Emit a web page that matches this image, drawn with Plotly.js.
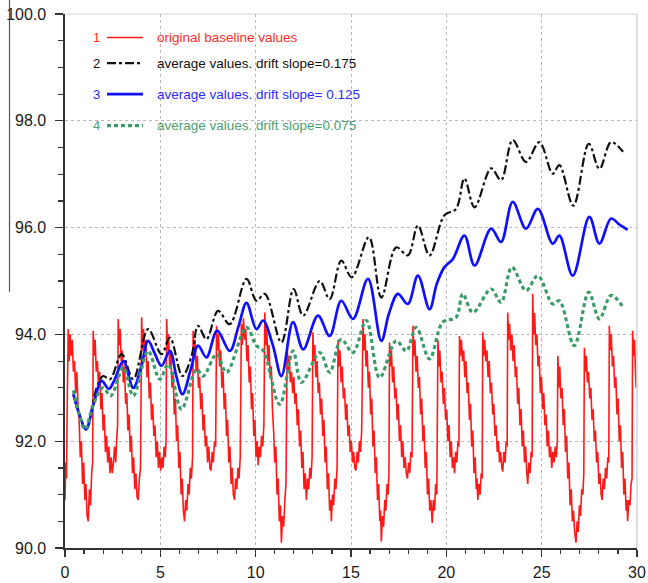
<!DOCTYPE html>
<html>
<head>
<meta charset="utf-8">
<script src="https://cdn.plot.ly/plotly-3.0.1.min.js"></script>
<style>html,body{margin:0;padding:0;background:#fff;}#chart{width:648px;height:583px;}</style>
</head>
<body>
<div id="chart"></div>
<script>
// ---- data ----
var legendNumbers = ['1', '2', '3', '4'];
var seriesNames = [
  'original baseline values',
  'average values. drift slope=0.175',
  'average values. drift slope= 0.125',
  'average values. drift slope=0.075'
];
var xTickVals = [0, 5, 10, 15, 20, 25, 30];
var yTickVals = [90, 92, 94, 96, 98, 100];

// red: original baseline values (noisy saw-tooth)
var redPts = [
 [0,90.9],[0.04,91.6],[0.08,91.3],[0.12,92.8],[0.17,94.1],
 [0.22,93.5],[0.27,94.0],[0.32,93.6],[0.38,93.9],[0.44,93.3],[0.5,93.5],[0.56,92.9],[0.62,93.3],[0.68,92.7],[0.74,92.4],[0.8,91.7],[0.86,92.0],[0.92,91.2],[0.98,91.6],[1.04,90.9],[1.1,91.2],[1.16,90.6],[1.22,90.5],[1.28,91.1],[1.34,90.8],[1.4,91.4],[1.45,91.6],[1.48,94.07],
 [1.53,93.6],[1.58,93.9],[1.64,93.3],[1.7,93.5],[1.76,93.0],[1.82,93.3],[1.88,92.6],[1.94,92.9],[2.0,92.2],[2.06,92.5],[2.12,91.8],[2.18,92.1],[2.24,91.6],[2.3,91.9],[2.36,91.4],[2.42,91.7],[2.48,91.4],[2.54,91.6],[2.6,91.9],[2.66,91.6],[2.72,92.1],[2.76,92.3],[2.79,94.29],
 [2.84,93.8],[2.89,94.1],[2.95,93.5],[3.0,93.7],[3.06,93.1],[3.12,93.4],[3.18,92.7],[3.24,92.9],[3.3,92.2],[3.36,92.5],[3.42,91.8],[3.48,92.1],[3.54,91.4],[3.6,91.7],[3.66,91.1],[3.72,91.4],[3.78,90.95],[3.84,90.9],[3.9,91.3],[3.96,91.5],[4.02,94.32],
 [4.07,93.7],[4.12,94.1],[4.18,93.6],[4.24,93.9],[4.3,93.2],[4.36,93.5],[4.42,92.8],[4.48,93.1],[4.54,92.4],[4.6,92.7],[4.66,92.1],[4.72,92.3],[4.78,91.7],[4.84,92.0],[4.9,91.5],[4.96,91.8],[5.02,91.45],[5.08,91.7],[5.14,91.5],[5.2,91.9],[5.26,91.7],[5.3,92.0],[5.33,94.29],
 [5.38,93.7],[5.43,94.0],[5.49,93.4],[5.55,93.7],[5.61,93.0],[5.67,93.3],[5.73,92.5],[5.79,92.8],[5.85,92.0],[5.91,92.3],[5.97,91.5],[6.03,91.8],[6.09,91.0],[6.15,91.3],[6.21,90.7],[6.27,90.5],[6.33,90.9],[6.39,90.7],[6.45,91.2],[6.51,91.0],[6.57,91.5],[6.63,91.3],[6.69,91.7],[6.72,94.07],
 [6.77,93.6],[6.82,93.9],[6.88,93.3],[6.94,93.6],[7.0,93.0],[7.06,93.2],[7.12,92.6],[7.18,92.9],[7.24,92.2],[7.3,92.5],[7.36,91.9],[7.42,92.1],[7.48,91.6],[7.54,91.9],[7.6,91.5],[7.66,91.45],[7.72,91.8],[7.78,91.6],[7.84,92.0],[7.9,91.9],[7.95,94.16],
 [8.0,93.7],[8.05,94.0],[8.11,93.4],[8.17,93.7],[8.23,93.0],[8.29,93.3],[8.35,92.6],[8.41,92.9],[8.47,92.1],[8.53,92.4],[8.59,91.6],[8.65,91.9],[8.71,91.2],[8.77,91.5],[8.83,91.0],[8.89,90.9],[8.95,91.3],[9.01,91.1],[9.07,91.5],[9.13,91.3],[9.19,91.7],[9.25,94.2],
 [9.3,93.8],[9.36,94.3],[9.42,93.9],[9.48,94.1],[9.54,93.5],[9.6,93.8],[9.66,93.1],[9.72,93.4],[9.78,92.6],[9.84,92.9],[9.9,92.1],[9.96,92.4],[10.02,91.7],[10.08,92.0],[10.13,91.55],[10.19,91.9],[10.25,91.7],[10.31,92.1],[10.37,91.9],[10.43,92.3],[10.48,94.41],
 [10.53,93.8],[10.58,94.1],[10.64,93.5],[10.7,93.8],[10.76,93.2],[10.82,93.4],[10.88,92.6],[10.94,92.2],[11.0,91.6],[11.06,91.9],[11.12,91.0],[11.18,91.3],[11.24,90.5],[11.3,90.8],[11.35,90.1],[11.41,90.6],[11.47,90.4],[11.53,90.9],[11.59,91.2],[11.65,93.8],
 [11.7,93.3],[11.76,93.6],[11.82,93.1],[11.88,93.3],[11.94,92.9],[12.0,93.2],[12.06,92.7],[12.12,92.9],[12.18,92.3],[12.24,92.6],[12.3,91.9],[12.36,92.2],[12.42,91.5],[12.48,91.8],[12.54,91.1],[12.6,91.4],[12.66,90.9],[12.72,91.3],[12.78,91.1],[12.84,91.5],[12.9,91.3],[12.96,91.7],[13.0,94.04],
 [13.05,93.5],[13.1,93.8],[13.16,93.2],[13.22,93.5],[13.28,92.9],[13.34,93.1],[13.4,92.5],[13.46,92.8],[13.52,92.1],[13.58,92.4],[13.64,91.6],[13.7,91.9],[13.76,91.1],[13.82,91.4],[13.88,90.7],[13.94,90.9],[13.97,90.5],[14.03,91.0],[14.09,90.8],[14.15,91.3],[14.21,91.1],[14.27,91.5],[14.32,93.9],
 [14.37,93.4],[14.42,93.7],[14.48,93.1],[14.54,93.4],[14.6,92.8],[14.66,93.0],[14.72,92.4],[14.78,92.7],[14.84,92.1],[14.9,92.3],[14.96,91.8],[15.02,92.0],[15.08,91.6],[15.14,91.8],[15.2,91.5],[15.26,91.45],[15.32,91.8],[15.38,91.6],[15.44,92.0],[15.5,91.8],[15.56,92.2],[15.63,94.29],
 [15.68,93.7],[15.73,94.0],[15.79,93.4],[15.85,93.7],[15.91,93.0],[15.97,93.3],[16.03,92.5],[16.09,92.8],[16.15,91.9],[16.21,92.2],[16.27,91.4],[16.33,91.7],[16.39,90.9],[16.45,91.2],[16.51,90.5],[16.55,90.7],[16.59,90.12],[16.65,90.6],[16.71,90.4],[16.77,90.9],[16.83,90.7],[16.89,91.2],[16.95,91.0],[16.99,91.4],[17.02,93.85],
 [17.07,93.4],[17.12,93.7],[17.18,93.1],[17.24,93.4],[17.3,92.8],[17.36,93.0],[17.42,92.4],[17.48,92.7],[17.54,92.0],[17.6,92.3],[17.66,91.7],[17.72,92.0],[17.78,91.5],[17.84,91.7],[17.9,91.4],[17.96,91.3],[18.02,91.6],[18.08,91.4],[18.14,91.8],[18.2,91.7],[18.25,94.16],
 [18.3,93.6],[18.35,93.9],[18.41,93.3],[18.47,93.6],[18.53,93.0],[18.59,93.2],[18.65,92.5],[18.71,92.8],[18.77,92.0],[18.83,92.3],[18.89,91.5],[18.95,91.8],[19.01,91.0],[19.07,91.3],[19.13,90.7],[19.19,90.9],[19.26,90.47],[19.32,90.9],[19.38,90.7],[19.44,91.2],[19.5,91.0],[19.56,93.9],
 [19.61,93.4],[19.66,93.7],[19.72,93.1],[19.78,93.3],[19.84,92.7],[19.9,93.0],[19.96,92.4],[20.02,92.6],[20.08,92.0],[20.14,92.3],[20.2,91.7],[20.26,92.0],[20.32,91.5],[20.38,91.7],[20.43,91.4],[20.49,91.8],[20.55,91.6],[20.61,92.0],[20.66,91.9],[20.69,93.97],
 [20.74,93.6],[20.79,93.9],[20.85,93.5],[20.91,93.7],[20.97,93.2],[21.03,93.5],[21.09,92.9],[21.15,93.1],[21.21,92.4],[21.27,92.7],[21.33,91.9],[21.39,92.2],[21.45,91.4],[21.51,91.7],[21.57,91.1],[21.61,91.3],[21.65,90.9],[21.71,91.2],[21.77,91.0],[21.83,91.4],[21.88,91.3],[21.91,94.04],
 [21.96,93.6],[22.01,93.9],[22.07,93.5],[22.13,93.7],[22.19,93.2],[22.25,93.5],[22.31,92.9],[22.37,93.1],[22.43,92.5],[22.49,92.7],[22.55,92.1],[22.61,92.3],[22.67,91.8],[22.73,92.0],[22.79,91.6],[22.85,91.8],[22.91,91.5],[22.96,91.43],[23.02,91.8],[23.08,91.6],[23.14,92.0],[23.19,91.9],[23.22,94.41],
 [23.27,93.9],[23.32,94.2],[23.38,93.7],[23.44,94.0],[23.5,93.5],[23.56,93.8],[23.62,93.2],[23.68,93.4],[23.74,92.7],[23.8,93.0],[23.86,92.3],[23.92,92.6],[23.98,91.9],[24.04,92.2],[24.1,91.6],[24.16,91.9],[24.22,91.4],[24.27,91.2],[24.33,91.6],[24.39,91.4],[24.45,91.8],[24.5,91.7],[24.53,94.76],
 [24.58,94.0],[24.63,94.4],[24.69,93.8],[24.75,94.0],[24.81,93.4],[24.87,93.6],[24.93,92.9],[24.99,93.2],[25.05,92.6],[25.11,92.9],[25.17,92.3],[25.23,92.5],[25.29,91.9],[25.35,92.2],[25.41,91.7],[25.47,91.9],[25.53,91.5],[25.59,91.8],[25.65,91.6],[25.71,91.9],[25.77,91.7],[25.82,92.0],[25.85,93.6],[25.9,93.0],[25.95,93.4],[26.01,92.8],[26.07,93.0],[26.13,92.3],[26.19,92.6],[26.25,91.8],[26.31,92.1],[26.37,91.3],[26.43,91.6],[26.49,90.8],[26.55,91.1],[26.61,90.5],[26.67,90.7],[26.73,90.3],[26.8,90.1],[26.86,90.5],[26.92,90.3],[26.98,90.8],[27.04,90.6],[27.1,91.1],[27.16,91.0],[27.21,91.4],[27.24,93.75],
 [27.29,93.3],[27.34,93.6],[27.4,93.1],[27.46,93.3],[27.52,92.8],[27.58,93.0],[27.64,92.4],[27.7,92.6],[27.76,92.0],[27.82,92.2],[27.88,91.6],[27.94,91.8],[28.0,91.2],[28.06,91.4],[28.12,91.0],[28.17,90.9],[28.23,91.3],[28.29,91.1],[28.35,91.5],[28.41,91.3],[28.47,91.7],[28.52,91.6],[28.55,94.16],
 [28.6,93.7],[28.65,94.0],[28.71,93.4],[28.77,93.6],[28.83,93.0],[28.89,93.2],[28.95,92.5],[29.01,92.8],[29.07,92.0],[29.13,92.3],[29.19,91.5],[29.25,91.8],[29.31,91.0],[29.37,91.3],[29.43,90.7],[29.47,90.9],[29.51,90.5],[29.57,90.9],[29.63,90.8],[29.69,91.2],[29.74,91.3],[29.77,94.07],[29.82,93.6],[29.87,93.9],[29.92,93.3],[29.96,93.0]
];

// black: average values, drift slope = 0.175
var blackX = [0.44,0.75,1.1,1.66,2.0,2.36,2.97,3.58,4.36,5.06,5.5,6.16,6.64,6.98,7.42,8.03,8.64,9.52,10.04,10.48,11.35,11.99,12.49,13.36,13.88,14.49,15.04,15.94,16.59,17.37,17.98,18.51,19.12,19.9,20.51,20.95,21.48,22.35,22.87,23.48,24.18,24.88,25.58,25.93,26.66,27.47,28.03,28.64,29.27];
var blackY = [92.88,92.5,92.22,93.0,93.22,93.16,93.63,93.16,94.1,93.63,93.94,93.22,93.6,94.16,93.91,94.44,94.19,95.04,94.63,94.76,93.85,94.85,94.35,95.0,94.66,95.38,95.07,95.82,94.69,95.63,95.48,96.04,95.48,96.23,96.35,96.92,96.38,97.11,96.89,97.64,97.23,97.6,97.01,97.17,96.41,97.57,97.1,97.6,97.42];

// blue: average values, drift slope = 0.125
var blueX = [0.44,0.75,1.1,1.5,1.92,2.3,2.6,3.06,3.58,4.0,4.36,4.7,5.06,5.5,5.85,6.16,6.6,6.98,7.42,7.98,8.64,9.1,9.52,10.04,10.39,10.9,11.35,11.96,12.49,13.27,13.88,14.49,15.1,15.89,16.59,17.0,17.46,17.98,18.51,19.12,19.5,19.9,20.34,20.95,21.48,22.35,22.87,23.48,24.18,24.8,25.58,25.93,26.63,27.5,28.03,28.64,29.1,29.51];
var blueY = [92.88,92.5,92.22,92.7,93.13,92.98,93.15,93.5,93.0,93.4,93.88,93.65,93.41,93.69,93.2,92.88,93.35,93.79,93.57,94.07,93.69,94.15,94.59,94.1,94.26,93.8,93.22,94.23,93.72,94.35,93.97,94.63,94.29,95.04,93.88,94.4,94.76,94.57,95.1,94.47,94.95,95.26,95.41,95.85,95.29,95.98,95.73,96.48,95.98,96.35,95.7,95.85,95.1,96.2,95.7,96.17,96.05,95.96];

// green: average values, drift slope = 0.075
var greenX = [0.44,0.75,1.05,1.5,2.0,2.4,3.06,3.58,4.36,4.97,5.41,6.11,6.9,7.25,7.95,8.47,9.52,10.04,10.39,11.26,11.96,12.4,13.36,13.88,14.49,15.1,15.8,16.5,17.37,17.9,18.42,19.12,19.81,20.51,20.86,21.39,22.35,22.87,23.44,24.18,24.8,25.58,25.93,26.71,27.47,28.03,28.64,29.27];
var greenY = [92.95,92.5,92.22,92.7,93.0,92.85,93.38,92.85,93.69,93.16,93.44,92.6,93.35,93.22,93.63,93.29,94.13,93.79,93.7,92.69,93.69,93.1,93.66,93.29,93.91,93.66,94.26,93.19,93.88,93.69,94.13,93.54,94.23,94.32,94.76,94.41,94.85,94.6,95.26,94.82,95.1,94.57,94.63,93.79,94.79,94.29,94.73,94.51];

// ---- styles ----
var colors = ['#ff1a1a', '#111111', '#1010ff', '#3d9b6b'];
var textColors = ['#ff2a2a', '#111111', '#2a2aff', '#4a9e72'];
var dashes = ['solid', 'dashdot', 'solid', '4px,3px'];
var widths = [1.6, 2.2, 2.7, 3.2];

var redX = redPts.map(function (p) { return p[0]; });
var redY = redPts.map(function (p) { return p[1]; });

var traces = [
  {x: redX, y: redY, type: 'scatter', mode: 'lines', name: seriesNames[0],
   line: {color: colors[0], width: widths[0], simplify: false}},
  {x: blackX, y: blackY, type: 'scatter', mode: 'lines', name: seriesNames[1],
   line: {color: colors[1], width: widths[1], dash: dashes[1], shape: 'spline', smoothing: 1}},
  {x: blueX, y: blueY, type: 'scatter', mode: 'lines', name: seriesNames[2],
   line: {color: colors[2], width: widths[2], shape: 'spline', smoothing: 1}},
  {x: greenX, y: greenY, type: 'scatter', mode: 'lines', name: seriesNames[3],
   line: {color: colors[3], width: widths[3], dash: dashes[3], shape: 'spline', smoothing: 1}}
];

// legend built from annotations and sample lines (paper coordinates)
var rowY = [0.956, 0.908, 0.850, 0.791];
var annotations = [];
var shapes = [];
for (var i = 0; i < 4; i++) {
  annotations.push({xref: 'paper', yref: 'paper', x: 0.055, y: rowY[i], text: legendNumbers[i],
    showarrow: false, xanchor: 'center', yanchor: 'middle',
    font: {family: 'Liberation Sans, Arial, sans-serif', size: 13, color: textColors[i]}});
  annotations.push({xref: 'paper', yref: 'paper', x: 0.158, y: rowY[i], text: seriesNames[i],
    showarrow: false, xanchor: 'left', yanchor: 'middle',
    font: {family: 'Liberation Sans, Arial, sans-serif', size: 13.5, color: textColors[i]}});
  shapes.push({type: 'line', xref: 'paper', yref: 'paper', x0: 0.0734, x1: 0.1364, y0: rowY[i], y1: rowY[i],
    line: {color: colors[i], width: i === 0 ? 1.6 : widths[i], dash: dashes[i]}});
}
// light frame on top and right
shapes.push({type: 'line', xref: 'paper', yref: 'paper', x0: 0, x1: 1, y0: 1, y1: 1, line: {color: '#d4d4d4', width: 1}});
shapes.push({type: 'line', xref: 'paper', yref: 'paper', x0: 1, x1: 1, y0: 0, y1: 1, line: {color: '#d4d4d4', width: 1.5}});
// stray vertical line at far left of the picture
shapes.push({type: 'line', xref: 'paper', yref: 'paper', x0: -0.097, x1: -0.097, y0: 0.48, y1: 1.03, line: {color: '#555555', width: 1.2}});

var tickFont = {family: 'Liberation Sans, Arial, sans-serif', size: 16, color: '#1a1a1a'};

var layout = {
  width: 648, height: 583,
  margin: {l: 65, r: 11, t: 14, b: 35, pad: 0},
  paper_bgcolor: '#ffffff', plot_bgcolor: '#ffffff',
  showlegend: false,
  xaxis: {
    range: [0, 30], tickvals: xTickVals, ticktext: xTickVals.map(String),
    ticks: 'outside', ticklen: 7, tickwidth: 1.3, tickcolor: '#333333',
    showline: true, linecolor: '#333333', linewidth: 1.6,
    showgrid: true, gridcolor: '#b8b8b8', griddash: 'dot', gridwidth: 1,
    zeroline: false, tickfont: tickFont, ticklabelstandoff: 2,
    minor: {dtick: 1, ticks: 'outside', ticklen: 4, tickcolor: '#333333', tickwidth: 1.2, showgrid: false}
  },
  yaxis: {
    range: [90, 100], tickvals: yTickVals, ticktext: yTickVals.map(function (v) { return v.toFixed(1); }),
    ticks: 'outside', ticklen: 8, tickwidth: 1.3, tickcolor: '#333333',
    showline: true, linecolor: '#333333', linewidth: 1.6,
    showgrid: true, gridcolor: '#b8b8b8', griddash: 'dot', gridwidth: 1,
    zeroline: false, tickfont: tickFont, ticklabelstandoff: 6,
    minor: {dtick: 0.5, ticks: 'outside', ticklen: 5, tickcolor: '#333333', tickwidth: 1.2, showgrid: false}
  },
  annotations: annotations,
  shapes: shapes
};

Plotly.newPlot('chart', traces, layout, {staticPlot: true, displayModeBar: false});
</script>
</body>
</html>
